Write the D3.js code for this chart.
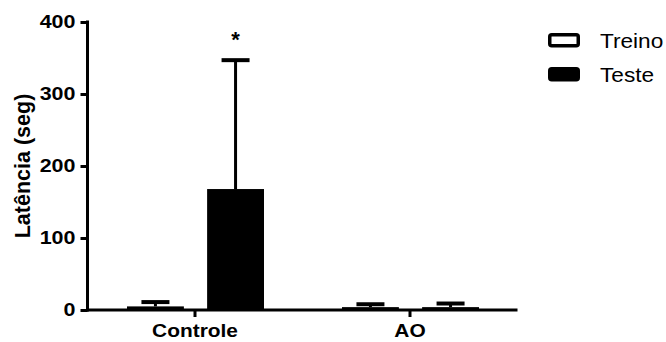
<!DOCTYPE html>
<html>
<head>
<meta charset="utf-8">
<script src="https://cdn.jsdelivr.net/npm/d3@7"></script>
<style>
  body { margin: 0; background: #fff; }
  svg { display: block; font-family: Arial, "Liberation Sans", Helvetica, sans-serif; }
</style>
</head>
<body>
<svg id="chart" width="666" height="342"></svg>
<script>
// Latência por grupo (média + desvio padrão)
const groups = ["Controle", "AO"];
const phases = ["Treino", "Teste"];
const meanTreino = [5, 4];
const meanTeste = [168, 4];
const sdTreino = [6, 4];
const sdTeste = [179, 5];
const yTicks = [0, 100, 200, 300, 400];
// order: Controle/Treino, Controle/Teste, AO/Treino, AO/Teste
const significant = [false, true, false, false];

const FONT = "Arial, 'Liberation Sans', sans-serif";
const WIDEN = 1.16; // horizontal widening of the lettering

// widen horizontal text glyphs
function widen(sel) {
  sel.each(function () {
    const w = this.getComputedTextLength();
    d3.select(this).attr("textLength", w * WIDEN).attr("lengthAdjust", "spacingAndGlyphs");
  });
}

const svg = d3.select("#chart");

const x = d3.scaleBand().domain(groups).range([87.5, 517.5]).padding(0);
const xInner = d3.scaleBand().domain(phases).range([39.5, 176.5]).paddingInner(0.29).paddingOuter(0);
const y = d3.scaleLinear().domain([0, 400]).range([310, 22]);

const rows = [];
groups.forEach((g, i) => {
  rows.push({ group: g, phase: "Treino", mean: meanTreino[i], sd: sdTreino[i] });
  rows.push({ group: g, phase: "Teste", mean: meanTeste[i], sd: sdTeste[i] });
});
rows.forEach((d, k) => d.sig = significant[k]);

const bx = d => x(d.group) + xInner(d.phase);
const bw = xInner.bandwidth();

// error bars (under the bars, so only the upper half shows)
const eb = svg.append("g");
eb.selectAll("line.v").data(rows).join("line")
  .attr("x1", d => bx(d) + bw / 2).attr("x2", d => bx(d) + bw / 2)
  .attr("y1", d => y(d.mean)).attr("y2", d => y(d.mean + d.sd))
  .attr("stroke", "#000").attr("stroke-width", 3);
eb.selectAll("line.c").data(rows).join("line")
  .attr("x1", d => bx(d) + bw / 2 - 14).attr("x2", d => bx(d) + bw / 2 + 14)
  .attr("y1", d => y(d.mean + d.sd)).attr("y2", d => y(d.mean + d.sd))
  .attr("stroke", "#000").attr("stroke-width", 4);

// bars
svg.append("g").selectAll("rect").data(rows).join("rect")
  .attr("x", d => bx(d))
  .attr("y", d => y(d.mean))
  .attr("width", bw)
  .attr("height", d => y(0) - y(d.mean))
  .attr("fill", "#000");

// significance marker
svg.append("g").selectAll("text").data(rows.filter(d => d.sig)).join("text")
  .attr("x", d => bx(d) + bw / 2)
  .attr("y", d => y(d.mean + d.sd) - 13)
  .attr("text-anchor", "middle")
  .attr("font-family", FONT)
  .attr("font-size", 22).attr("font-weight", "bold")
  .text("*");

// y axis
const yAxis = svg.append("g").attr("transform", "translate(87.5,0)")
  .call(d3.axisLeft(y).tickValues(yTicks).tickSize(7).tickSizeOuter(0));
yAxis.select(".domain").attr("stroke-width", 3).attr("d", "M0,20.5V311.5");
yAxis.selectAll(".tick line").attr("stroke-width", 3);
yAxis.selectAll(".tick text").attr("font-size", 18.5).attr("font-weight", "bold")
  .attr("font-family", FONT).attr("x", -12).attr("fill", "#000").call(widen);

// x axis
const xAxis = svg.append("g").attr("transform", "translate(0,310)")
  .call(d3.axisBottom(x).tickSize(7).tickSizeOuter(0));
xAxis.select(".domain").attr("stroke-width", 3).attr("d", "M86,0H517.5");
xAxis.selectAll(".tick line").attr("stroke-width", 3);
xAxis.selectAll(".tick text").attr("font-size", 18).attr("font-weight", "bold")
  .attr("font-family", FONT).attr("y", 14).attr("fill", "#000").call(widen);

// y title
svg.append("text")
  .attr("transform", "translate(30,166) rotate(-90)")
  .attr("text-anchor", "middle")
  .attr("font-family", FONT)
  .attr("font-size", 21.5).attr("font-weight", "bold")
  .text("Latência (seg)");

// legend
const legend = svg.append("g").attr("transform", "translate(548,33)");
phases.forEach((p, i) => {
  const g = legend.append("g").attr("transform", `translate(0,${i * 34})`);
  g.append("rect")
    .attr("x", 1.75).attr("y", 1.75).attr("width", 28.5).attr("height", 11).attr("rx", 2)
    .attr("fill", p === "Teste" ? "#000" : "#fff")
    .attr("stroke", "#000").attr("stroke-width", 3.5);
  g.append("text").attr("x", 52).attr("y", 14.5)
    .attr("font-family", FONT)
    .attr("font-size", 19.5).text(p).call(widen);
});
</script>
</body>
</html>
